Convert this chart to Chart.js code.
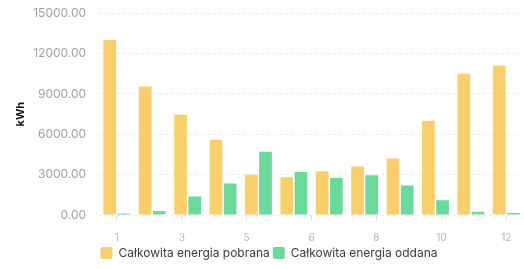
<!DOCTYPE html>
<html>
<head>
<meta charset="utf-8">
<script src="https://cdn.jsdelivr.net/npm/chart.js@4/dist/chart.umd.min.js"></script>
<style>
	html, body { margin: 0; padding: 0; background: #fff; }
	#wrap { width: 524px; height: 269px; }
</style>
</head>
<body>
<div id="wrap"><canvas id="chart"></canvas></div>
<script>
// Energia pobrana / oddana per month
const months = ["1", "2", "3", "4", "5", "6", "7", "8", "9", "10", "11", "12"];
const pobrana = [13000, 9550, 7450, 5600, 3000, 2800, 3250, 3600, 4200, 7000, 10500, 11100];
const oddana = [120, 300, 1380, 2350, 4700, 3200, 2750, 2950, 2200, 1100, 250, 150];
const xTickLabels = ["1", "3", "5", "6", "8", "10", "12"];
const yTicks = [0, 3000, 6000, 9000, 12000, 15000];

const font = "Inter, 'Open Sans', sans-serif";

new Chart(document.getElementById("chart"), {
	type: "bar",
	data: {
		labels: months,
		datasets: [
			{
				label: "Całkowita energia pobrana",
				data: pobrana,
				backgroundColor: "#f9cf6b",
				borderColor: "#f9cf6b",
				borderRadius: 0,
			},
			{
				label: "Całkowita energia oddana",
				data: oddana,
				backgroundColor: "#6bd99b",
				borderColor: "#6bd99b",
				borderRadius: 0,
			},
		],
	},
	options: {
		responsive: true,
		maintainAspectRatio: false,
		animation: false,
		layout: { padding: { top: 1, left: 14, right: 0, bottom: 0 } },
		scales: {
			x: { display: false },
			xt: {
				type: "linear",
				position: "bottom",
				min: 0.5,
				max: 12.5,
				offset: false,
				afterBuildTicks: (axis) => {
					axis.ticks = xTickLabels.map((_, i) => ({ value: 1 + (i * 11) / (xTickLabels.length - 1) }));
				},
				// pull the legend closer to the tick labels
				afterFit: (axis) => {
					axis.height -= 12;
				},
				ticks: {
					callback: (v, i) => xTickLabels[i],
					color: "#b4b4be",
					font: { family: font, size: 10 },
					padding: 12,
					maxRotation: 0,
				},
				grid: { drawOnChartArea: false, offset: false, tickLength: 5, color: "#dcdce2" },
				border: { display: false },
			},
			y: {
				min: 0,
				max: 15000,
				afterBuildTicks: (axis) => {
					axis.ticks = yTicks.map((v) => ({ value: v }));
				},
				ticks: {
					callback: (v) => v.toFixed(2),
					color: "#a0a0ac",
					font: { family: font, size: 12 },
					padding: 6,
				},
				grid: { color: "#ececf0", tickLength: 7, tickColor: "rgba(0,0,0,0)" },
				border: { display: false, dash: [3, 3] },
				title: {
					display: true,
					text: "kWh",
					color: "#1a1a1a",
					font: { family: font, size: 11, weight: "bold" },
					padding: { top: 0, bottom: 0 },
				},
			},
		},
		plugins: {
			legend: {
				position: "bottom",
				labels: {
					boxWidth: 12,
					boxHeight: 12,
					padding: 3,
					useBorderRadius: true,
					borderRadius: 2,
					color: "#3c3c3c",
					font: { family: font, size: 12 },
				},
			},
			tooltip: { enabled: false },
		},
	},
});
</script>
</body>
</html>
